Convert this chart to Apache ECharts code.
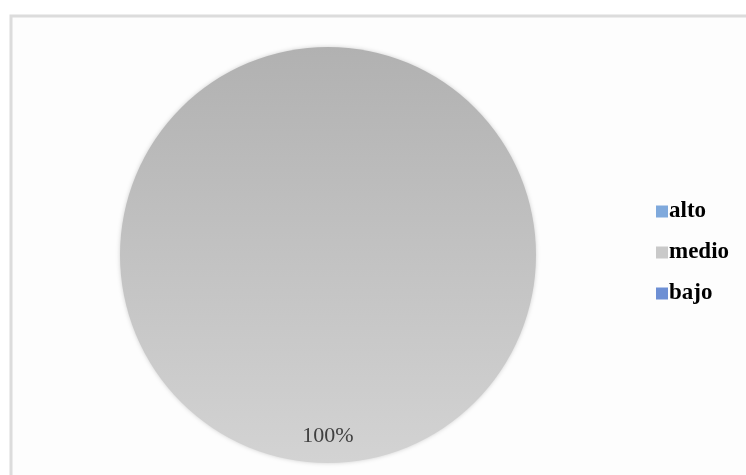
<!DOCTYPE html>
<html>
<head>
<meta charset="utf-8">
<script src="https://cdn.jsdelivr.net/npm/echarts@6/dist/echarts.min.js"></script>
<style>
  html, body { margin: 0; padding: 0; background: #fff; }
  #main { width: 746px; height: 475px; }
</style>
</head>
<body>
<div id="main"></div>
<script>
// datos del gráfico
var categorias = ['alto', 'medio', 'bajo'];
var valores = [0, 100, 0];
var colores = ['#7fa9dc', '#c9c9c9', '#6d8fd4'];

var myChart = echarts.init(document.getElementById('main'));

var datos = categorias.map(function (c, i) {
    return {
        name: c,
        value: valores[i],
        label: { show: valores[i] > 0 },
        itemStyle: {
            color: i === 1 ? new echarts.graphic.LinearGradient(0, 0, 0, 1, [
                { offset: 0, color: '#b1b1b1' },
                { offset: 1, color: '#d3d3d3' }
            ]) : colores[i]
        }
    };
});

var option = {
    backgroundColor: '#ffffff',
    animation: false,
    graphic: [{
        type: 'rect',
        shape: { x: 11, y: 16, width: 740, height: 465 },
        style: { fill: '#fdfdfd', stroke: '#dcdcdc', lineWidth: 3 },
        silent: true
    }],
    legend: {
        orient: 'vertical',
        left: 651,
        top: 195,
        itemWidth: 12,
        itemHeight: 12,
        itemGap: 18,
        icon: 'rect',
        data: categorias.map(function (c, i) {
            return { name: c, itemStyle: { color: colores[i] } };
        }),
        textStyle: {
            fontFamily: 'Liberation Serif',
            fontWeight: 'bold',
            fontSize: 23,
            color: '#000',
            padding: [0, 0, 0, -4]
        }
    },
    series: [{
        type: 'pie',
        center: [328, 255],
        radius: [0, 208],
        startAngle: 90,
        data: datos,
        itemStyle: {
            borderWidth: 0,
            shadowColor: 'rgba(0,0,0,0.18)',
            shadowBlur: 4
        },
        emphasis: { disabled: true },
        label: {
            position: 'inside',
            formatter: '{d}%',
            fontFamily: 'Liberation Serif',
            fontSize: 22,
            color: '#404040'
        },
        labelLayout: { dy: 74 },
        labelLine: { show: false }
    }]
};

myChart.setOption(option);
</script>
</body>
</html>
